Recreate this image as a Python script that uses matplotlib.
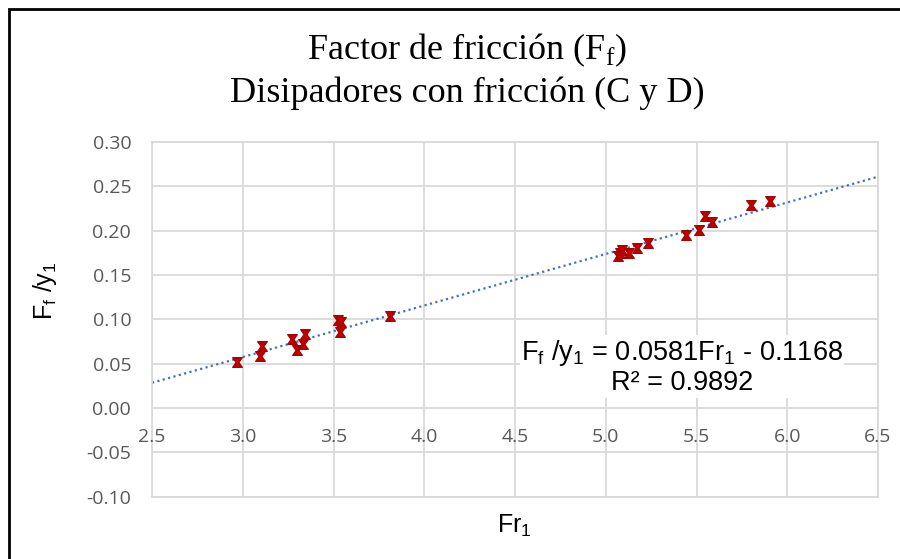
import numpy as np
import matplotlib
matplotlib.use("Agg")
import matplotlib.pyplot as plt
from matplotlib.patches import Rectangle
from matplotlib.path import Path

plt.rcParams["axes.unicode_minus"] = False

# Froude number Fr1 and friction factor Ff/y1 (disipadores C y D)
fr1 = [2.966, 3.095, 3.104, 3.269, 3.297, 3.330, 3.342, 3.526, 3.541, 3.535,
       3.811, 5.070, 5.080, 5.092, 5.127, 5.172, 5.233, 5.440, 5.514, 5.549,
       5.584, 5.802, 5.903]
ff_y1 = [0.0522, 0.0586, 0.0699, 0.0778, 0.0651, 0.0722, 0.0835, 0.0992, 0.0973, 0.0854,
         0.1038, 0.1715, 0.1750, 0.1780, 0.1745, 0.1810, 0.1857, 0.1948, 0.2010, 0.2169,
         0.2094, 0.2289, 0.2331]

# linear trendline reported on the chart
slope = 0.0581
intercept = -0.1168
r2 = 0.9892

x_ticks = [2.5, 3.0, 3.5, 4.0, 4.5, 5.0, 5.5, 6.0, 6.5]
y_ticks = [-0.10, -0.05, 0.00, 0.05, 0.10, 0.15, 0.20, 0.25, 0.30]

grid_col = "#d9d9d9"
tick_col = "#595959"

fig = plt.figure(figsize=(9, 5.59), dpi=100)
ax = fig.add_axes([152/900, 1-496.7/559, (878-152)/900, (496.7-142)/559])

# chart border (only left/top visible)
fig.patches.append(Rectangle((8.5/900, -0.1), 1.2, 1 - 9.5/559 + 0.1, transform=fig.transFigure,
                             fill=False, edgecolor="black", linewidth=2))

ax.set_xlim(2.5, 6.5)
ax.set_ylim(-0.10, 0.30)
ax.set_xticks(x_ticks)
ax.set_yticks(y_ticks)
ax.grid(True, color=grid_col, linewidth=1.3)
ax.set_axisbelow(True)
for s in ax.spines.values():
    s.set_color(grid_col)
    s.set_linewidth(1.3)
ax.tick_params(length=0, colors=tick_col, labelsize=14, pad=15)
ax.set_xticklabels([])
for lbl in ax.get_yticklabels():
    lbl.set_family("Open Sans")

# x tick labels sit next to the axis crossing at y=0
for xv in x_ticks:
    ax.text(xv, -0.0327, f"{xv:.1f}", ha="center", va="center", color=tick_col,
            fontsize=14, family="Open Sans")

# hourglass-shaped marker
hg = Path([(-1, 1), (1, 1), (0.3, 0), (1, -1), (-1, -1), (-0.3, 0), (-1, 1)],
          [Path.MOVETO] + [Path.LINETO]*5 + [Path.CLOSEPOLY])
ax.scatter(fr1, ff_y1, marker=hg, s=50, color="#c00000", edgecolors="#a00000",
           linewidths=0.8, zorder=3)

xs = np.array([2.5, 6.5])
ax.plot(xs, slope*xs + intercept, linestyle=(0, (1, 1.5)), color="#4472c4", linewidth=1.6, zorder=2)

ax.text(0.730, 0.365, r"F$_\mathregular{f}$ /y$_\mathregular{1}$ = 0.0581Fr$_\mathregular{1}$ - 0.1168"
        + "\n" + f"R² = {r2:.4f}",
        transform=ax.transAxes, ha="center", va="center", fontsize=19.5, family="Liberation Sans",
        linespacing=1.12, bbox=dict(facecolor="white", edgecolor="none", pad=1), zorder=4)

ax.set_xlabel(r"Fr$_\mathregular{1}$", fontsize=18, family="Liberation Sans", labelpad=2)
ax.xaxis.set_label_coords(0.4986, -0.045)
ax.set_ylabel(r"F$_\mathregular{f}$ /y$_\mathregular{1}$", fontsize=18, family="Liberation Sans")
ax.yaxis.set_label_coords(-0.128, 0.58)

fig.text(0.519, 1-50/559, r"Factor de fricción (F$_\mathregular{f}$)", ha="center", va="center",
         fontsize=26, family="Liberation Serif")
fig.text(0.519, 1-93/559, "Disipadores con fricción (C y D)", ha="center", va="center",
         fontsize=26, family="Liberation Serif")

fig.savefig("out.png", dpi=100)
